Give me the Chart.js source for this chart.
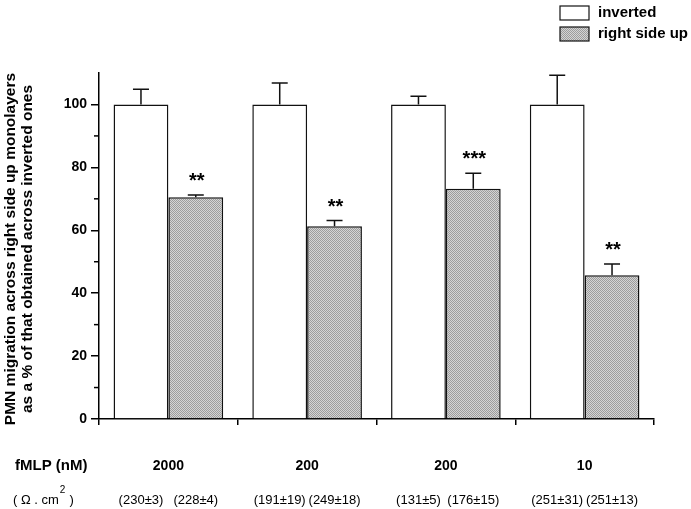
<!DOCTYPE html>
<html>
<head>
<meta charset="utf-8">
<script src="https://cdn.jsdelivr.net/npm/chart.js@4"></script>
<style>
  html, body { margin: 0; padding: 0; background: #fff; }
  #wrap { width: 691px; height: 509px; }
</style>
</head>
<body>
<div id="wrap"><canvas id="chart" width="691" height="509"></canvas></div>
<script>
// Données
const doses = ['2000', '200', '200', '10'];
const seriesNames = ['inverted', 'right side up'];
const invertedVals = [100, 100, 100, 100];
const invertedErr = [4.8, 6.8, 2.6, 9.3];
const rightUpVals = [70.5, 61.3, 73.2, 45.7];
const rightUpErr = [0.7, 1.8, 4.9, 3.6];
const stars = ['**', '**', '***', '**'];
const resistInverted = ['(230±3)', '(191±19)', '(131±5)', '(251±31)'];
const resistRightUp = ['(228±4)', '(249±18)', '(176±15)', '(251±13)'];
const yTicks = [0, 20, 40, 60, 80, 100];
const yMinorTicks = [10, 30, 50, 70, 90];

const FONT = '"Liberation Sans", Arial, sans-serif';

// motif pointillé gris
function makeStipple() {
    const c = document.createElement('canvas');
    c.width = 2; c.height = 2;
    const g = c.getContext('2d');
    g.fillStyle = '#d4d4d4'; g.fillRect(0, 0, 2, 2);
    g.fillStyle = '#9c9c9c'; g.fillRect(0, 0, 1, 1); g.fillRect(1, 1, 1, 1);
    return g.createPattern(c, 'repeat');
}
const stipple = makeStipple();

const errorBars = {
    id: 'errorBars',
    afterDatasetsDraw(chart) {
        const ctx = chart.ctx;
        const y = chart.scales.y;
        const errs = [invertedErr, rightUpErr];
        ctx.save();
        ctx.strokeStyle = '#111';
        ctx.lineWidth = 1.5;
        chart.data.datasets.forEach((ds, di) => {
            chart.getDatasetMeta(di).data.forEach((bar, i) => {
                const top = y.getPixelForValue(ds.data[i] + errs[di][i]);
                ctx.beginPath();
                ctx.moveTo(bar.x, bar.y);
                ctx.lineTo(bar.x, top);
                ctx.moveTo(bar.x - 8, top);
                ctx.lineTo(bar.x + 8, top);
                ctx.stroke();
                if (di === 1) {
                    ctx.fillStyle = '#000';
                    ctx.font = 'bold 20px ' + FONT;
                    ctx.textAlign = 'center';
                    ctx.textBaseline = 'alphabetic';
                    ctx.fillText(stars[i], bar.x + 1, top - 8);
                }
            });
        });
        ctx.restore();
    },
    afterDraw(chart) {
        const ctx = chart.ctx;
        const y = chart.scales.y;
        const left = chart.chartArea.left;
        ctx.save();
        // petites graduations
        ctx.strokeStyle = '#000';
        ctx.lineWidth = 1.5;
        yMinorTicks.forEach(v => {
            const py = y.getPixelForValue(v);
            ctx.beginPath();
            ctx.moveTo(left - 5, py);
            ctx.lineTo(left, py);
            ctx.stroke();
        });

        // titre de l'axe y
        ctx.fillStyle = '#000';
        ctx.font = 'bold 15.5px ' + FONT;
        ctx.textAlign = 'center';
        ctx.textBaseline = 'alphabetic';
        ctx.translate(15, 249);
        ctx.rotate(-Math.PI / 2);
        ctx.fillText('PMN migration across right side up monolayers', 0, 0);
        ctx.fillText('as a % of that obtained across inverted ones', 0, 17);
        ctx.setTransform(1, 0, 0, 1, 0, 0);

        // lignes sous l'axe x
        const x = chart.scales.x;
        ctx.textBaseline = 'middle';
        ctx.font = 'bold 15px ' + FONT;
        ctx.textAlign = 'left';
        ctx.fillText('fMLP (nM)', 15, 466);
        ctx.font = 'bold 14px ' + FONT;
        ctx.textAlign = 'center';
        doses.forEach((d, i) => ctx.fillText(d, x.getPixelForValue(i), 466));

        ctx.font = '13px ' + FONT;
        ctx.textAlign = 'left';
        const part1 = '( \u03A9 . cm';
        ctx.fillText(part1, 13, 500);
        const w1 = ctx.measureText(part1).width;
        ctx.font = '10px ' + FONT;
        ctx.fillText('2', 13 + w1 + 1, 490);
        ctx.font = '13px ' + FONT;
        ctx.fillText(' )', 13 + w1 + 7, 500);

        ctx.textAlign = 'center';
        const rows = [resistInverted, resistRightUp];
        rows.forEach((row, di) => {
            chart.getDatasetMeta(di).data.forEach((bar, i) => {
                ctx.fillText(row[i], bar.x, 500);
            });
        });

        // légende
        ctx.font = 'bold 15px ' + FONT;
        ctx.textAlign = 'left';
        chart.data.datasets.forEach((ds, di) => {
            const by = 6 + di * 21;
            ctx.fillStyle = ds.backgroundColor;
            ctx.fillRect(560, by, 29, 14);
            ctx.strokeStyle = '#111';
            ctx.lineWidth = 1.2;
            ctx.strokeRect(560, by, 29, 14);
            ctx.fillStyle = '#000';
            ctx.fillText(ds.label, 598, by + 7);
        });
        ctx.restore();
    }
};

new Chart(document.getElementById('chart'), {
    type: 'bar',
    data: {
        labels: doses,
        datasets: [
            {
                label: seriesNames[0],
                data: invertedVals,
                backgroundColor: '#ffffff',
                borderColor: '#111',
                borderWidth: 1.5,
            },
            {
                label: seriesNames[1],
                data: rightUpVals,
                backgroundColor: stipple,
                borderColor: '#111',
                borderWidth: 1.5,
            },
        ],
    },
    options: {
        responsive: false,
        animation: false,
        devicePixelRatio: 1,
        layout: { padding: { left: 0, top: 73, right: 37, bottom: 0 } },
        datasets: { bar: { categoryPercentage: 0.79, barPercentage: 1 } },
        plugins: { legend: { display: false }, tooltip: { enabled: false } },
        scales: {
            x: {
                afterFit: s => { s.height = 90; },
                ticks: { display: false },
                grid: { offset: true, drawOnChartArea: false, tickLength: 6, color: '#000', lineWidth: 1.5 },
                border: { color: '#000', width: 1.5 },
            },
            y: {
                min: 0,
                max: 110,
                afterFit: s => { s.width = 99; },
                afterBuildTicks: s => { s.ticks = yTicks.map(v => ({ value: v })); },
                ticks: { color: '#000', font: { family: FONT, size: 14, weight: 'bold' }, padding: 4 },
                grid: { drawOnChartArea: false, tickLength: 8, color: '#000', lineWidth: 1.5 },
                border: { color: '#000', width: 1.5 },
            },
        },
    },
    plugins: [errorBars],
});
</script>
</body>
</html>
